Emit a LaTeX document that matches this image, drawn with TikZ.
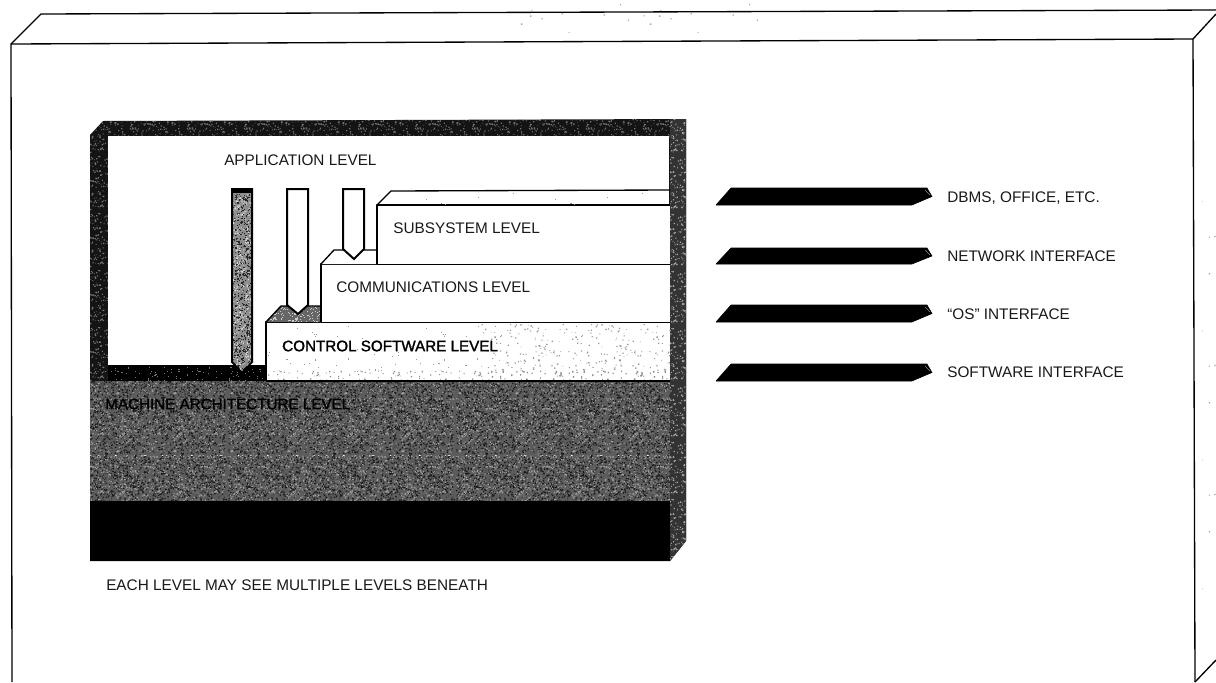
\documentclass[tikz,border=0pt]{standalone}
\usepackage{fontspec}
\setmainfont{Liberation Sans}
\usetikzlibrary{patterns}
\newcommand{\declnoise}[3]{%
  \pgfdeclarepatternformonly{#1}{\pgfqpoint{0pt}{0pt}}{\pgfqpoint{#2pt}{#2pt}}{\pgfqpoint{#2pt}{#2pt}}{%
    \foreach \i in {1,...,#3} {
      \pgfmathsetmacro{\ax}{rnd*(#2-1)}%
      \pgfmathsetmacro{\ay}{rnd*(#2-1)}%
      \pgfmathsetmacro{\as}{0.5+0.6*rnd}%
      \pgfpathrectangle{\pgfpoint{\ax pt}{\ay pt}}{\pgfpoint{\as pt}{\as pt}}%
      \pgfusepath{fill}%
    }}}
\pgfmathsetseed{1984}
\declnoise{noiseDense}{57}{1000}
\declnoise{noiseMid}{43}{330}
\declnoise{noiseSparse}{61}{220}
\declnoise{noiseFaint}{97}{60}
\tikzset{
  lbl/.style={font=\fontsize{11.5pt}{13pt}\selectfont, inner sep=0pt, anchor=west, text=black!90},
  boldlbl/.style={lbl, font=\fontsize{11.4pt}{13pt}\selectfont\addfontfeature{FakeBold=1.6}, text=black},
  edge line/.style={draw=black, line width=1pt, line join=round},
  tape/.style={fill=black, draw=black, line width=0.4pt, line join=round},
  tapeglint/.style={draw=black!45, line width=0.4pt},
  downarrow/.style={draw=black, line width=1.5pt, fill=white, line join=miter}
}
\definecolor{grainmid}{gray}{0.36}
\begin{document}
\begin{tikzpicture}[x=0.75pt,y=-0.75pt]
\useasboundingbox (0,0) rectangle (1216,682);
\fill[white] (0,0) rectangle (1216,682);

% outer slab
\draw[edge line] (12,682) -- (11,44) -- (1193,39) -- (1195,682);
\draw[edge line] (11,44) -- (41,14) -- (1216,10);
\draw[edge line] (1193,39) -- (1216,14);
\draw[edge line] (1195,682) -- (1216,660);
\path[pattern=noiseFaint, pattern color=black!35] (520,4) rectangle (760,38);
\path[pattern=noiseFaint, pattern color=black!40] (1198,160) rectangle (1216,620);

% frame of the inner block
\fill[black!92] (90,135) -- (103,121) -- (686,119) -- (686,541) -- (670,561) -- (90,561) -- cycle;
\path[pattern=noiseMid, pattern color=black!55] (90,135) -- (103,121) -- (686,119) -- (686,137) -- (108,137) -- (108,381) -- (90,381) -- cycle;
\fill[black!80] (670,119) -- (686,119) -- (686,541) -- (670,561) -- cycle;
\path[pattern=noiseMid, pattern color=black!35] (670,119) -- (686,119) -- (686,541) -- (670,561) -- cycle;

% application white area
\fill[white] (108,136) rectangle (669,365);

% strip under the application level
\fill[black] (108,365) rectangle (266,381);
\path[pattern=noiseSparse, pattern color=black!55] (108,367) rectangle (266,381);

% machine architecture level
\fill[grainmid] (90,381) rectangle (670,501);
\path[pattern=noiseDense, pattern color=black!90] (90,381) rectangle (670,501);
\path[pattern=noiseMid, pattern color=black!38] (90,381) rectangle (670,501);
\fill[black] (90,501) rectangle (670,561);

% control software level
\fill[white] (266,322) rectangle (670,381);
\path[pattern=noiseSparse, pattern color=black!40] (480,324) rectangle (670,381);
\path[pattern=noiseFaint, pattern color=black!40] (268,324) rectangle (480,381);
\path[pattern=noiseSparse, pattern color=black!45] (268,370) rectangle (670,381);
\draw[edge line] (266,381) -- (266,322) -- (670,322);
\draw[edge line] (266,381) -- (670,381);
% its top face
\fill[black!60] (266,322) -- (281,306) -- (321,306) -- (321,322) -- cycle;
\path[pattern=noiseMid, pattern color=black!20] (266,322) -- (281,306) -- (321,306) -- (321,322) -- cycle;
\draw[edge line] (266,322) -- (281,306) -- (321,306);

% communications level
\fill[white] (321,264) rectangle (670,322);
\draw[edge line] (321,322) -- (321,264) -- (670,264);
\fill[white] (321,264) -- (334,250) -- (377,250) -- (377,264) -- cycle;
\draw[edge line] (321,264) -- (334,250) -- (377,250);

% subsystem level
\fill[white] (377,205) rectangle (670,264);
\draw[edge line] (377,264) -- (377,205) -- (670,205);
\draw[edge line] (377,205) -- (391,191) -- (670,190);
\path[pattern=noiseFaint, pattern color=black!40] (395,192) rectangle (668,204);

% arrows between levels
\filldraw[draw=black, line width=1.5pt, fill=black!45] (232,189) -- (252,189) -- (252,362) -- (242,372) -- (232,362) -- cycle;
\path[pattern=noiseDense, pattern color=black!85] (233,194) -- (251,194) -- (251,362) -- (242,371) -- (233,362) -- cycle;
\path[pattern=noiseMid, pattern color=black!15] (233,194) -- (251,194) -- (251,362) -- (242,371) -- (233,362) -- cycle;
\fill[black] (232,188) rectangle (252,193);
\draw[downarrow] (287,305) -- (287,189) -- (308,189) -- (308,305) -- (298,314) -- cycle;
\draw[downarrow] (343,249) -- (343,189) -- (364,189) -- (364,249) -- (354,259) -- cycle;

% interface tapes
\foreach \t/\b [count=\k] in {188/205,248/264,305/322,364/381} {
  \draw[tape] (716,\b) -- (731,\t) -- (927,\t) -- (932,{(\t+\b)/2}) -- (912,\b) -- cycle;
  \draw[tapeglint] (925,{\t+2}) -- (930,{\t+7});
}

% labels
\node[lbl] (app) at (224,160) {APPLICATION LEVEL};
\node[lbl] (sub) at (393,228) {SUBSYSTEM LEVEL};
\node[lbl] (com) at (336,287) {COMMUNICATIONS LEVEL};
\node[boldlbl] (ctl) at (282,346) {CONTROL SOFTWARE LEVEL};
\node[boldlbl] (mac) at (105,404) {MACHINE ARCHITECTURE LEVEL};
\node[lbl] (note) at (106,585) {EACH LEVEL MAY SEE MULTIPLE LEVELS BENEATH};
\node[lbl] (i1) at (947,198) {DBMS, OFFICE, ETC.};
\node[lbl] (i2) at (947,256) {NETWORK INTERFACE};
\node[lbl] (i3) at (947,314) {``OS'' INTERFACE};
\node[lbl] (i4) at (947,372) {SOFTWARE INTERFACE};
\end{tikzpicture}
\end{document}
